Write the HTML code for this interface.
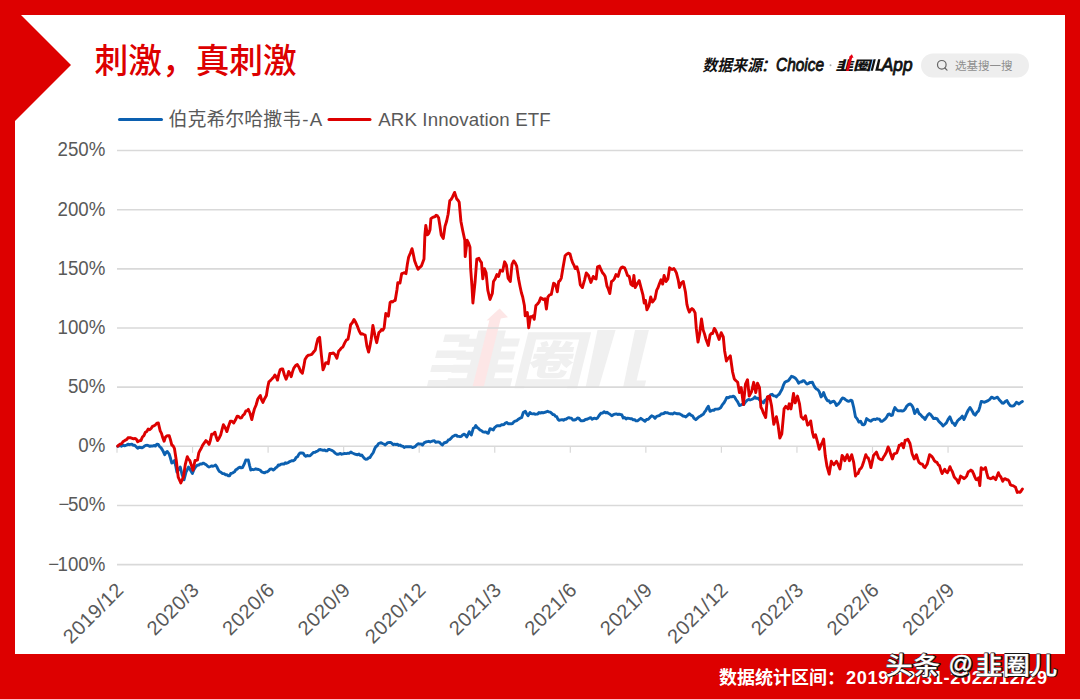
<!DOCTYPE html>
<html lang="zh"><head><meta charset="utf-8"><title>刺激，真刺激</title>
<style>
html,body{margin:0;padding:0;background:#fff}
body{width:1080px;height:699px;overflow:hidden;position:relative;font-family:"Liberation Sans",sans-serif}
svg{position:absolute;left:0;top:0;display:block}
text{font-family:"Liberation Sans",sans-serif}
.ax{font-size:18.70px;fill:#595959}
.cjk{font-family:"Liberation Sans","Noto Sans CJK SC",sans-serif}
</style></head><body>
<svg width="1080" height="699" viewBox="0 0 1080 699">
<path fill="#dd0000" d="M0 0H1080V699H0Z M21 15L71 65L15 121V654H1065V15Z" fill-rule="evenodd"/>
<g fill="#f0f0f0">
<g transform="translate(444 382.5) skewX(-14) scale(0.0700 0.0610)"><path d="M545 -851V-69H456V-851H305V-718H77V-585H305V-505H93V-372H305V-292H69V-159H305V-69H42V70H961V-69H699V-164H936V-297H699V-377H913V-510H699V-590H928V-723H699V-851Z"/></g>
<path d="M445 334.5H470L468.1 342H443.1Z M437 350.5H466L464.1 358H435.1Z M432 365H462L460.2 372H430.2Z M428.5 380H460L458.4 386.5H426.9Z"/>
<g transform="translate(511 382.5) skewX(-14) scale(0.0720 0.0610)"><path d="M445 -693C439 -652 431 -615 419 -580H346L396 -598C392 -623 374 -656 355 -681L269 -650C283 -629 296 -602 302 -580H246V-499H384L368 -473H221V-388H292C265 -366 235 -347 200 -331V-703H798V-55H200V-314C222 -290 250 -252 261 -232C284 -244 305 -256 325 -270V-186C325 -95 358 -70 469 -70C493 -70 592 -70 617 -70C698 -70 728 -94 739 -183C710 -188 668 -202 645 -217C641 -165 634 -156 605 -156C581 -156 502 -156 483 -156C444 -156 436 -160 436 -188V-276H531C530 -265 528 -258 525 -255C520 -249 514 -248 506 -248C496 -248 479 -248 457 -251C468 -232 476 -201 478 -179C507 -177 537 -178 554 -180C575 -181 593 -188 606 -203C622 -220 627 -255 630 -319C656 -286 688 -258 722 -239C738 -266 773 -307 798 -327C765 -341 734 -363 709 -388H775V-473H498L509 -499H755V-580H689L728 -656L620 -679C613 -650 599 -612 585 -580H538C547 -611 555 -645 561 -680ZM436 -354H420L447 -388H584L604 -354ZM66 -825V95H200V63H798V95H939V-825Z"/></g>
<path d="M597.5 330H615.6L598.9 387H585.7Z"/>
<path d="M635 330H648.9L636.6 380.5H646.1L644.5 387H623.2Z"/>
</g>
<path d="M499.6 308.5L508 317.2L500.8 318.6L483.8 386.5L472.6 386.5L489.4 320.2L486.5 320.6Z" fill="#fde6e6"/>
<line x1="117.0" x2="1023.0" y1="150.55" y2="150.55" stroke="#d9d9d9" stroke-width="1.6"/>
<line x1="117.0" x2="1023.0" y1="209.70" y2="209.70" stroke="#d9d9d9" stroke-width="1.6"/>
<line x1="117.0" x2="1023.0" y1="268.85" y2="268.85" stroke="#d9d9d9" stroke-width="1.6"/>
<line x1="117.0" x2="1023.0" y1="328.00" y2="328.00" stroke="#d9d9d9" stroke-width="1.6"/>
<line x1="117.0" x2="1023.0" y1="387.15" y2="387.15" stroke="#d9d9d9" stroke-width="1.6"/>
<line x1="117.0" x2="1023.0" y1="446.30" y2="446.30" stroke="#d9d9d9" stroke-width="1.6"/>
<line x1="117.0" x2="1023.0" y1="505.45" y2="505.45" stroke="#d9d9d9" stroke-width="1.6"/>
<line x1="117.0" x2="1023.0" y1="564.60" y2="564.60" stroke="#d9d9d9" stroke-width="1.6"/>
<line x1="117.00" x2="117.00" y1="446.30" y2="452.80" stroke="#d9d9d9" stroke-width="1.2"/>
<line x1="192.55" x2="192.55" y1="446.30" y2="452.80" stroke="#d9d9d9" stroke-width="1.2"/>
<line x1="268.10" x2="268.10" y1="446.30" y2="452.80" stroke="#d9d9d9" stroke-width="1.2"/>
<line x1="343.65" x2="343.65" y1="446.30" y2="452.80" stroke="#d9d9d9" stroke-width="1.2"/>
<line x1="419.20" x2="419.20" y1="446.30" y2="452.80" stroke="#d9d9d9" stroke-width="1.2"/>
<line x1="494.75" x2="494.75" y1="446.30" y2="452.80" stroke="#d9d9d9" stroke-width="1.2"/>
<line x1="570.30" x2="570.30" y1="446.30" y2="452.80" stroke="#d9d9d9" stroke-width="1.2"/>
<line x1="645.85" x2="645.85" y1="446.30" y2="452.80" stroke="#d9d9d9" stroke-width="1.2"/>
<line x1="721.40" x2="721.40" y1="446.30" y2="452.80" stroke="#d9d9d9" stroke-width="1.2"/>
<line x1="796.95" x2="796.95" y1="446.30" y2="452.80" stroke="#d9d9d9" stroke-width="1.2"/>
<line x1="872.50" x2="872.50" y1="446.30" y2="452.80" stroke="#d9d9d9" stroke-width="1.2"/>
<line x1="948.05" x2="948.05" y1="446.30" y2="452.80" stroke="#d9d9d9" stroke-width="1.2"/>
<text class="ax" style="font-size:20px" transform="translate(105.4 156.45) scale(0.935 1)" text-anchor="end">250%</text>
<text class="ax" style="font-size:20px" transform="translate(105.4 215.60) scale(0.935 1)" text-anchor="end">200%</text>
<text class="ax" style="font-size:20px" transform="translate(105.4 274.75) scale(0.935 1)" text-anchor="end">150%</text>
<text class="ax" style="font-size:20px" transform="translate(105.4 333.90) scale(0.935 1)" text-anchor="end">100%</text>
<text class="ax" style="font-size:20px" transform="translate(105.4 393.05) scale(0.935 1)" text-anchor="end">50%</text>
<text class="ax" style="font-size:20px" transform="translate(105.4 452.20) scale(0.935 1)" text-anchor="end">0%</text>
<text class="ax" style="font-size:20px" transform="translate(105.4 511.35) scale(0.935 1)" text-anchor="end"><tspan>−</tspan><tspan dx="-1.6">50%</tspan></text>
<text class="ax" style="font-size:20px" transform="translate(105.4 570.50) scale(0.935 1)" text-anchor="end"><tspan>−</tspan><tspan dx="-1.6">100%</tspan></text>
<text class="ax" style="font-size:20.0px;letter-spacing:0.55px" transform="translate(125.00 591.00) rotate(-45)" text-anchor="end">2019/12</text>
<text class="ax" style="font-size:20.0px;letter-spacing:0.55px" transform="translate(200.55 591.00) rotate(-45)" text-anchor="end">2020/3</text>
<text class="ax" style="font-size:20.0px;letter-spacing:0.55px" transform="translate(276.10 591.00) rotate(-45)" text-anchor="end">2020/6</text>
<text class="ax" style="font-size:20.0px;letter-spacing:0.55px" transform="translate(351.65 591.00) rotate(-45)" text-anchor="end">2020/9</text>
<text class="ax" style="font-size:20.0px;letter-spacing:0.55px" transform="translate(427.20 591.00) rotate(-45)" text-anchor="end">2020/12</text>
<text class="ax" style="font-size:20.0px;letter-spacing:0.55px" transform="translate(502.75 591.00) rotate(-45)" text-anchor="end">2021/3</text>
<text class="ax" style="font-size:20.0px;letter-spacing:0.55px" transform="translate(578.30 591.00) rotate(-45)" text-anchor="end">2021/6</text>
<text class="ax" style="font-size:20.0px;letter-spacing:0.55px" transform="translate(653.85 591.00) rotate(-45)" text-anchor="end">2021/9</text>
<text class="ax" style="font-size:20.0px;letter-spacing:0.55px" transform="translate(729.40 591.00) rotate(-45)" text-anchor="end">2021/12</text>
<text class="ax" style="font-size:20.0px;letter-spacing:0.55px" transform="translate(804.95 591.00) rotate(-45)" text-anchor="end">2022/3</text>
<text class="ax" style="font-size:20.0px;letter-spacing:0.55px" transform="translate(880.50 591.00) rotate(-45)" text-anchor="end">2022/6</text>
<text class="ax" style="font-size:20.0px;letter-spacing:0.55px" transform="translate(956.05 591.00) rotate(-45)" text-anchor="end">2022/9</text>
<polyline fill="none" stroke="#0c60b0" stroke-width="2.9" stroke-linejoin="round" stroke-linecap="round" points="117.7,446.3 119.0,445.9 120.3,445.5 121.6,446.2 122.9,445.1 124.2,445.7 125.5,445.5 126.8,445.0 128.0,444.2 129.3,444.7 130.6,444.4 131.9,444.1 133.1,445.2 134.4,445.1 135.7,446.3 137.7,448.3 139.1,447.3 140.6,447.5 142.1,447.8 143.5,447.0 144.8,445.8 146.0,445.4 147.3,445.3 148.6,445.7 149.9,446.4 151.2,446.0 152.5,446.1 153.9,445.5 155.4,446.0 156.9,444.1 158.3,444.4 159.6,446.6 160.9,447.6 162.2,449.6 163.4,451.8 164.7,454.7 166.0,452.5 167.3,451.5 169.2,454.1 170.5,458.3 171.8,463.1 173.1,462.3 174.4,460.5 175.7,465.8 176.9,472.1 178.6,469.6 180.2,466.9 182.1,474.7 184.0,479.8 186.0,472.1 187.2,469.8 188.5,467.0 189.8,468.9 191.1,471.3 192.4,473.4 194.0,469.5 195.6,467.0 197.2,465.3 198.8,465.0 200.3,463.9 201.8,464.0 203.3,463.1 204.8,464.0 206.2,464.8 207.7,466.2 209.1,467.0 210.4,466.5 211.7,465.9 213.0,466.3 214.3,465.7 215.6,465.0 216.9,466.8 218.1,469.5 219.4,471.5 221.0,472.3 222.6,473.6 224.2,473.7 225.6,474.8 226.9,474.8 228.3,475.8 229.6,475.7 230.8,473.5 232.1,473.2 233.3,472.5 234.6,471.8 235.8,469.7 237.1,469.1 238.3,468.0 239.7,467.1 241.1,467.9 242.5,467.5 244.2,464.2 245.8,460.0 247.1,460.1 248.3,460.0 249.6,465.6 250.8,470.0 252.1,469.4 253.3,469.7 254.6,469.3 255.8,468.8 257.2,469.3 258.6,469.5 260.0,470.0 261.6,471.8 263.3,472.5 264.7,472.9 266.1,471.9 267.5,471.7 268.8,470.7 270.0,469.2 271.6,468.9 273.3,470.0 274.6,469.1 275.8,467.7 277.1,467.0 278.3,465.0 279.7,465.2 281.1,464.1 282.5,464.0 283.9,464.1 285.3,462.8 286.7,463.3 288.0,462.7 289.3,461.8 290.7,461.2 292.0,460.6 293.3,460.8 294.7,459.9 296.1,457.5 297.5,456.7 298.8,454.4 300.0,453.0 301.6,453.0 303.3,453.3 304.6,455.4 305.8,456.3 307.2,455.5 308.6,455.9 310.0,455.8 311.6,454.2 313.3,452.5 314.8,452.4 316.2,451.6 317.7,451.0 319.2,449.7 320.6,449.5 321.9,450.0 323.3,450.3 324.6,450.0 325.8,450.8 327.1,450.9 328.3,449.5 329.6,449.5 330.8,450.0 332.3,450.6 333.8,451.7 335.2,453.1 336.7,454.2 337.9,454.3 339.2,453.8 340.4,453.4 341.7,454.2 343.1,453.8 344.6,453.5 346.1,453.6 347.5,453.3 349.1,453.4 350.8,452.0 352.2,453.0 353.6,453.5 355.0,454.2 356.3,454.5 357.7,454.8 359.0,454.0 360.4,455.5 361.7,455.0 363.1,456.8 364.4,458.4 365.8,459.2 367.2,459.1 368.6,457.9 370.0,457.5 371.6,454.8 373.3,452.5 374.6,449.0 375.8,446.7 377.2,445.7 378.6,443.5 380.0,443.0 381.2,442.8 382.5,443.5 383.8,444.0 385.0,445.0 386.4,443.9 387.8,442.6 389.2,442.5 390.6,442.4 391.9,443.4 393.3,444.7 394.6,444.1 396.0,444.6 397.3,444.1 398.7,445.5 400.0,445.0 401.4,446.0 402.8,446.1 404.2,447.5 405.6,446.8 406.9,446.7 408.3,446.7 409.7,446.7 411.1,446.6 412.5,447.5 413.9,447.1 415.4,446.4 416.9,444.6 418.3,443.7 419.7,444.1 421.1,443.9 422.5,445.0 424.1,442.9 425.8,442.0 427.3,441.6 428.8,441.3 430.2,442.0 431.7,441.3 433.0,440.9 434.3,440.8 435.7,442.4 437.0,441.9 438.3,442.0 439.7,442.4 441.1,444.1 442.5,445.0 443.9,443.0 445.4,442.5 446.9,442.0 448.3,440.0 449.6,439.6 451.0,438.4 452.3,436.8 453.7,436.0 455.0,435.3 456.2,435.1 457.5,436.4 458.8,436.4 460.0,436.7 461.4,436.3 462.8,434.8 464.2,434.2 465.4,435.2 466.7,437.0 467.9,434.8 469.2,431.7 471.3,435.0 473.3,428.3 474.6,427.7 475.8,425.5 477.1,427.5 478.3,428.3 480.0,430.0 481.7,430.8 483.0,431.8 484.3,432.2 485.7,431.9 487.0,432.8 488.3,433.3 490.0,428.7 491.6,429.1 493.3,430.0 494.6,427.6 495.8,426.7 497.2,425.6 498.6,425.7 500.0,425.8 501.3,424.8 502.7,424.8 504.0,424.6 505.4,423.1 506.7,422.5 508.4,423.8 510.0,423.7 511.3,423.9 512.7,423.3 514.0,421.7 515.4,420.9 516.7,420.8 518.0,419.5 519.2,418.7 520.5,417.9 521.7,417.5 523.3,412.5 525.3,411.3 526.6,413.7 528.0,415.8 530.0,412.5 531.2,413.6 532.5,413.9 533.8,413.7 535.0,414.2 536.3,414.1 537.7,414.0 539.0,412.5 540.4,413.1 541.7,412.5 543.2,412.9 544.6,412.4 546.0,412.0 547.5,411.3 548.9,411.9 550.3,412.1 551.7,413.3 553.0,414.6 554.2,414.7 555.5,416.3 556.7,416.7 558.0,419.3 559.2,420.3 560.7,419.9 562.1,419.6 563.5,420.2 565.0,419.2 566.2,419.3 567.5,418.1 568.8,417.7 570.0,418.0 571.4,418.1 572.8,420.0 574.2,420.0 575.9,419.5 577.5,418.0 578.8,418.1 580.0,419.9 581.2,420.9 582.5,420.8 584.0,420.5 585.4,419.5 586.8,419.3 588.3,418.7 589.6,418.0 590.9,417.7 592.2,419.2 593.6,418.5 594.9,418.2 596.2,418.8 597.5,418.0 599.1,415.5 600.8,413.3 602.5,413.1 604.2,411.7 605.6,412.8 606.9,412.3 608.3,413.3 610.0,414.2 611.7,415.8 613.4,414.7 615.0,414.2 616.3,413.9 617.7,414.5 619.0,414.1 620.4,414.5 621.7,414.7 623.3,418.0 624.7,417.5 626.1,418.9 627.5,418.1 628.9,418.4 630.3,418.7 631.7,418.7 633.2,419.9 634.6,419.6 636.0,420.9 637.5,420.8 639.1,419.6 640.8,418.3 642.2,419.4 643.6,420.3 645.0,421.3 646.6,419.5 648.3,419.2 650.0,417.4 651.7,415.8 653.4,416.5 655.0,418.3 656.6,416.3 658.3,415.8 659.6,415.6 661.0,414.0 662.3,413.8 663.7,413.5 665.0,412.5 666.2,412.9 667.5,412.8 668.8,413.4 670.0,413.7 671.5,413.7 672.9,414.0 674.3,412.8 675.8,413.3 677.3,413.8 678.8,413.7 680.2,414.2 681.7,415.0 683.1,416.1 684.4,416.3 685.8,417.0 687.5,415.4 689.2,413.7 690.9,415.2 692.5,415.8 694.1,418.4 695.8,419.7 697.5,418.1 699.2,416.7 700.6,416.0 701.9,415.0 703.3,414.2 704.5,412.2 705.8,410.6 707.0,408.2 708.3,406.3 710.0,411.3 711.2,410.8 712.5,410.2 713.8,410.4 715.0,409.2 716.5,409.1 717.9,409.0 719.3,408.6 720.8,407.5 722.5,404.6 724.2,402.5 725.5,400.1 726.7,397.5 728.4,397.8 730.0,396.7 731.7,396.9 733.4,396.1 734.7,397.2 736.0,399.5 737.7,401.9 739.4,405.5 740.8,405.1 742.3,404.2 743.7,404.6 745.5,402.0 747.2,400.3 748.6,399.4 750.1,400.0 751.5,399.5 753.2,398.7 754.9,396.9 756.3,398.4 757.8,398.1 759.2,399.5 760.6,401.0 762.1,402.0 763.5,402.9 764.9,400.3 766.4,399.5 767.8,396.9 769.2,396.8 770.7,394.7 772.1,394.3 773.5,395.9 775.0,395.9 776.4,396.9 777.8,395.2 779.2,394.3 780.6,391.8 782.0,389.2 783.5,384.9 784.9,382.3 786.6,381.3 788.4,380.6 790.0,378.5 791.5,376.3 793.4,376.9 795.2,378.0 797.0,380.1 798.7,383.2 800.1,382.0 801.6,381.8 803.0,380.6 804.4,381.0 805.9,383.0 807.3,384.0 808.6,383.5 809.8,382.4 811.1,382.5 812.4,382.3 813.7,385.1 815.0,387.5 816.4,389.0 817.9,389.7 819.3,391.8 821.0,396.9 822.3,395.5 823.6,392.6 824.9,396.1 826.1,398.6 827.5,400.8 829.0,400.8 830.4,402.9 832.1,401.7 833.9,401.2 835.1,402.6 836.4,405.5 838.1,404.2 839.9,402.1 841.2,399.7 842.6,398.0 844.0,398.3 845.5,399.6 846.9,400.6 848.2,401.3 849.5,401.1 850.7,400.2 852.0,400.6 853.7,407.5 855.5,416.9 857.2,418.9 858.9,422.1 860.6,421.2 862.3,424.6 863.6,424.9 864.9,423.8 866.6,418.6 868.0,419.6 869.5,420.7 870.9,421.2 872.4,419.9 873.9,419.2 875.4,419.6 876.9,418.6 878.2,419.1 879.5,419.2 880.8,421.3 882.1,421.2 883.8,420.1 885.5,418.6 886.8,416.9 888.1,414.3 889.5,413.9 891.0,415.5 892.4,415.2 893.6,410.7 894.9,407.5 896.6,409.8 898.4,410.9 899.7,410.8 901.0,410.6 902.2,411.0 903.5,410.9 905.2,409.0 907.0,405.8 908.7,404.5 910.4,404.0 911.7,405.2 913.0,407.5 914.7,413.5 916.0,411.4 917.3,409.2 919.0,413.5 920.7,414.8 922.4,416.9 923.7,417.6 925.0,419.5 926.4,417.0 927.9,414.8 929.3,413.5 930.7,414.7 932.2,416.6 933.6,418.6 935.3,418.3 937.0,418.6 938.7,421.2 940.4,422.9 941.7,424.1 943.0,426.0 944.7,424.5 946.4,422.9 948.1,419.4 949.9,416.9 951.1,419.7 952.4,422.9 953.7,423.4 955.0,425.5 956.3,423.1 957.6,420.7 958.9,419.5 960.6,418.2 962.3,416.1 964.0,419.5 965.3,416.6 966.6,413.5 968.3,410.0 970.0,407.5 971.3,409.6 972.6,411.8 973.9,414.2 975.2,415.2 976.9,412.4 978.6,410.9 979.9,406.7 981.2,401.5 982.9,401.8 984.6,402.3 986.4,401.4 988.1,400.6 989.8,399.4 991.5,397.2 992.8,397.7 994.1,398.5 995.8,397.9 997.5,397.2 999.2,399.7 1000.9,401.5 1002.2,403.1 1003.5,403.2 1005.2,401.6 1007.0,400.6 1008.7,403.7 1010.4,405.8 1012.1,406.1 1013.8,405.8 1015.1,404.3 1016.4,402.3 1017.7,403.0 1019.0,404.0 1020.7,402.5 1022.4,401.5"/>
<polyline fill="none" stroke="#dd0000" stroke-width="2.9" stroke-linejoin="round" stroke-linecap="round" points="117.7,446.1 119.0,444.9 120.3,444.1 121.6,443.7 122.9,441.8 124.2,440.9 125.5,440.1 126.7,439.5 128.0,437.8 129.3,437.6 130.8,437.8 132.2,438.3 133.7,438.8 135.1,438.4 136.4,439.3 137.7,441.8 139.3,440.8 140.9,440.6 142.4,437.0 143.9,435.6 145.4,432.2 146.8,431.4 148.2,429.0 149.7,429.7 151.1,428.5 152.5,426.4 153.9,425.8 155.4,424.9 156.9,423.1 158.3,422.9 160.2,430.9 161.5,433.4 162.8,437.8 164.1,441.2 165.4,437.3 166.7,435.9 167.9,435.7 169.2,435.8 170.5,439.9 171.8,445.1 173.1,445.8 174.4,448.3 176.3,460.5 178.2,477.2 179.5,480.0 180.8,483.0 182.1,480.0 183.4,477.2 185.3,464.4 187.3,456.7 188.6,459.3 189.8,460.5 191.4,465.4 193.0,470.2 195.0,460.5 196.2,460.5 197.5,459.9 198.8,452.8 200.1,450.2 201.4,448.0 202.7,445.1 204.3,442.8 205.9,440.6 207.5,442.1 209.1,444.4 210.4,440.2 211.7,434.1 213.3,434.1 214.9,432.2 216.2,437.1 217.5,440.6 219.1,438.1 220.7,434.8 222.1,429.4 223.4,424.7 225.2,427.6 226.9,431.6 228.6,426.0 230.3,421.3 232.0,421.3 233.7,423.0 235.4,420.1 237.2,416.1 238.6,416.5 240.1,418.0 241.5,417.9 242.9,415.4 244.4,414.2 245.8,411.0 247.1,410.8 248.3,409.3 250.1,413.5 251.8,419.6 253.1,413.9 254.3,409.3 256.1,405.0 257.8,399.0 259.1,397.2 260.3,395.5 261.6,399.9 262.9,402.4 264.6,398.7 266.4,395.5 267.6,387.8 268.9,381.8 270.6,380.4 272.4,378.4 273.6,377.2 274.9,374.9 276.2,377.0 277.5,380.1 278.8,374.1 280.1,369.8 281.4,369.0 282.7,368.9 284.4,375.0 286.1,379.2 287.4,375.9 288.7,371.5 289.9,373.3 291.2,376.7 292.5,371.9 293.8,368.1 295.6,365.6 297.3,364.6 299.0,367.2 300.7,371.5 302.4,373.2 303.7,366.9 305.0,359.5 306.7,356.7 308.4,355.2 310.1,354.9 311.8,354.3 313.6,352.0 315.3,350.0 316.6,343.8 317.9,338.9 319.6,337.2 321.3,354.3 323.0,369.8 324.3,366.8 325.6,362.9 326.9,362.6 328.2,363.8 329.9,353.5 331.6,353.5 333.4,353.0 335.1,354.8 336.9,358.2 338.6,351.3 340.0,349.7 341.5,347.9 342.9,347.0 344.6,343.1 346.3,340.1 348.0,339.3 349.3,332.9 350.6,324.7 352.3,322.7 354.0,319.5 355.8,322.6 357.5,326.4 359.2,331.0 360.9,334.1 362.3,333.8 363.8,334.5 365.2,335.0 366.9,346.1 368.6,352.1 369.9,346.4 371.2,339.3 372.9,325.5 375.0,335.8 376.7,342.7 378.9,332.4 380.2,331.6 381.5,329.5 382.8,330.2 384.1,328.1 385.8,313.5 387.1,314.2 388.4,316.1 390.1,302.4 391.4,301.5 392.6,302.0 393.9,300.7 395.2,300.6 397.0,289.5 397.8,282.6 400.0,283.0 401.7,273.6 403.1,273.2 404.6,272.7 406.0,273.6 407.3,264.6 408.6,257.3 410.3,253.2 412.0,248.7 413.3,254.2 414.6,260.7 416.3,265.2 418.0,269.3 419.8,267.3 421.5,265.8 422.8,262.3 424.0,259.0 424.9,234.9 425.8,225.5 427.5,234.9 428.8,233.3 430.0,229.8 430.9,218.6 432.2,217.7 433.5,217.0 434.8,216.8 436.1,215.2 437.4,215.9 438.6,217.8 439.9,225.7 441.2,234.9 443.3,238.4 445.0,226.4 446.6,221.2 448.1,214.3 449.8,200.6 451.1,199.5 452.4,197.2 454.6,192.4 456.7,198.9 457.9,200.1 459.2,202.3 460.9,221.2 462.6,230.0 464.8,240.3 465.2,256.6 467.2,240.3 468.6,243.1 470.0,247.2 470.6,267.8 472.0,286.7 472.9,303.0 475.1,281.5 476.8,259.2 478.9,258.3 480.2,260.9 481.5,262.6 482.8,278.9 484.4,268.6 486.1,272.9 487.8,290.1 490.0,299.5 492.3,293.5 493.5,281.5 495.2,278.9 496.9,274.6 498.6,276.4 500.3,270.3 502.6,271.2 504.6,261.8 506.4,265.2 508.1,278.1 510.3,281.5 512.0,264.3 513.7,260.9 515.2,262.9 516.7,266.1 518.4,278.1 520.1,286.7 521.4,292.8 522.7,297.0 524.4,305.5 525.2,315.8 527.3,312.4 528.7,327.9 530.4,316.7 531.7,317.0 533.0,315.8 534.2,319.3 535.9,305.5 537.5,304.0 539.0,302.1 540.7,297.8 542.0,298.5 543.3,299.5 545.0,298.7 546.4,309.0 547.9,297.0 549.6,294.9 551.3,294.4 553.6,283.2 554.9,284.0 556.1,286.7 557.3,291.8 558.7,281.5 560.0,280.7 561.3,278.1 563.0,267.8 565.1,255.8 566.9,254.0 568.7,253.2 570.0,254.0 571.3,258.7 572.6,262.6 573.9,265.1 575.2,268.6 576.9,266.9 578.6,272.9 580.3,284.9 582.4,287.5 584.6,279.8 586.3,272.9 588.5,275.5 590.9,282.4 593.2,276.4 594.7,278.3 596.1,278.9 597.5,266.9 599.5,266.1 601.0,269.7 602.6,272.9 603.9,274.2 605.2,276.4 606.9,285.8 608.3,289.0 609.8,293.5 611.5,281.5 612.9,280.6 614.3,278.9 616.0,274.6 618.1,276.4 619.8,270.3 621.1,267.7 622.4,266.9 624.6,267.8 626.0,271.1 627.5,275.5 629.2,276.4 630.9,284.1 632.7,285.8 633.9,275.5 635.2,287.5 637.5,283.2 639.2,280.6 641.2,288.4 643.0,295.2 644.2,303.0 645.5,300.4 646.9,309.8 649.0,305.5 650.7,297.0 652.4,302.1 653.7,300.5 655.0,298.7 656.7,290.1 658.0,287.8 659.3,284.1 661.0,279.8 662.7,284.1 664.1,275.5 666.1,281.5 667.9,278.9 669.6,267.8 670.9,268.9 672.1,269.5 673.9,268.6 675.1,270.3 676.4,272.9 678.2,279.8 679.5,287.5 681.2,283.2 683.3,281.5 685.5,292.3 686.9,304.3 688.1,309.0 689.4,312.1 690.7,309.8 692.0,308.6 693.5,309.8 695.1,312.9 696.3,328.4 698.0,342.1 699.7,333.5 701.5,318.9 703.2,330.1 704.5,333.9 705.8,338.7 707.0,342.0 708.3,345.5 710.0,335.2 711.3,333.5 712.6,333.5 714.3,328.4 715.6,330.3 716.9,333.5 719.1,339.5 721.2,332.7 723.3,337.0 724.6,350.7 726.4,361.0 727.6,359.0 728.9,357.6 730.3,355.8 732.6,372.0 734.3,378.9 736.0,380.7 737.7,382.3 739.4,392.6 741.2,387.5 743.4,404.6 745.5,384.0 747.5,379.7 749.2,396.1 751.5,391.8 753.7,382.3 755.8,392.6 757.5,383.2 759.5,387.5 760.9,407.2 762.2,409.5 763.5,413.2 765.7,417.5 767.4,396.9 769.5,396.1 771.5,405.5 773.8,424.4 775.1,420.3 776.4,416.7 778.1,425.2 779.8,438.1 781.8,433.8 784.1,408.9 785.8,406.4 788.0,408.9 789.2,403.8 790.9,408.9 792.2,402.0 793.5,393.5 795.2,402.9 797.5,396.1 799.5,403.8 801.2,416.7 803.5,419.2 805.5,415.8 807.6,425.2 809.2,424.0 810.7,420.9 812.4,432.1 813.8,437.3 815.5,434.7 817.6,442.4 819.3,449.3 821.0,445.0 822.3,442.3 823.6,439.0 825.3,456.1 827.0,466.4 829.2,474.2 831.3,461.3 832.6,463.4 833.9,464.7 835.1,463.2 836.4,461.3 838.1,464.4 839.9,469.0 842.1,455.5 843.5,457.2 844.8,460.7 847.2,454.7 849.4,460.7 851.7,454.7 853.7,462.4 855.5,476.1 856.8,473.9 858.0,473.6 859.7,469.3 861.0,468.4 862.3,465.8 864.0,460.7 865.8,454.7 867.0,457.3 868.3,458.1 869.6,461.9 870.9,467.6 872.2,461.8 873.5,455.5 875.0,453.8 876.4,452.1 878.6,458.1 880.4,459.4 882.1,459.8 883.4,457.3 884.6,455.5 886.4,452.2 888.1,447.0 889.4,449.6 890.6,453.8 892.4,459.0 894.1,453.8 895.4,453.5 896.7,453.0 898.0,449.6 899.2,445.2 900.5,445.2 901.8,443.5 903.5,447.8 905.2,440.1 906.5,440.1 907.8,439.2 910.0,443.5 912.1,453.8 914.2,459.0 916.4,454.7 917.7,459.0 919.0,462.4 920.7,463.8 922.4,464.1 923.7,466.7 925.0,467.6 927.2,464.1 929.6,454.7 931.8,456.4 933.1,458.3 934.4,460.7 935.7,461.9 937.0,462.4 938.3,464.9 939.6,465.8 940.9,470.4 942.1,473.6 943.4,471.3 944.7,469.3 946.0,471.6 947.3,472.7 948.6,470.4 949.9,466.7 951.1,469.4 952.4,471.8 954.2,477.0 955.5,478.5 956.7,479.6 958.5,483.0 960.6,476.1 962.3,477.2 964.0,478.7 965.3,477.6 966.6,476.1 968.3,471.8 969.6,471.2 970.9,470.1 972.2,471.0 973.5,473.6 974.8,476.9 976.1,479.6 977.4,479.7 978.6,477.9 979.8,485.6 981.2,467.6 982.5,469.2 983.8,469.3 985.5,467.6 986.8,473.2 988.1,477.9 989.4,478.1 990.6,478.7 991.9,478.3 993.2,477.0 994.5,478.5 995.8,479.6 997.1,476.0 998.4,472.7 999.6,475.5 1000.9,477.0 1002.7,481.3 1004.0,479.2 1005.2,478.7 1006.5,479.7 1007.8,479.6 1009.1,481.2 1010.4,484.7 1011.7,485.4 1013.0,485.6 1014.2,486.4 1015.5,487.3 1017.3,492.4 1018.5,491.9 1019.8,492.4 1021.1,491.1 1022.4,489.0"/>
<text class="cjk" x="94.6" y="73" font-size="33.7" font-weight="500" fill="#dd0000">刺激，真刺激</text>
<line x1="119.5" x2="161.5" y1="119.5" y2="119.5" stroke="#0c60b0" stroke-width="3" stroke-linecap="round"/>
<text class="cjk" x="168.5" y="125.6" font-size="18.95" fill="#595959">伯克希尔哈撒韦</text>
<text class="ax" x="302.35" y="125.6" style="letter-spacing:1.2px">-A</text>
<line x1="329" x2="370" y1="119.5" y2="119.5" stroke="#dd0000" stroke-width="3" stroke-linecap="round"/>
<text class="ax" x="378.2" y="125.6" textLength="172.5" lengthAdjust="spacing">ARK Innovation ETF</text>
<text class="cjk" transform="translate(702.5 70.6) skewX(-12) scale(0.931 1)" font-size="16" font-weight="bold" fill="#111">数据来源</text>
<text x="763.2" y="71.0" font-size="18.3" font-style="italic" fill="#111" stroke="#111" stroke-width="0.85" stroke-linejoin="round">:</text>
<text x="776.0" y="71.0" font-size="18.3" font-style="italic" fill="#111" stroke="#111" stroke-width="0.85" stroke-linejoin="round" textLength="48" lengthAdjust="spacingAndGlyphs">Choice</text>
<circle cx="830.5" cy="65.3" r="1.0" fill="#aaa"/>
<text class="cjk" transform="translate(835.6 69.9) skewX(-14) scale(1 0.7)" x="0 17.3" y="0" font-size="18" font-weight="900" fill="#111">韭圈</text>
<path fill="#111" d="M870.6 70.8H872.9L875.8 59.3H873.5Z M878.1 59.3H880.4L878.5 68.7H882L881.5 70.8H875.2Z"/>
<path d="M849.2 56.8L851.9 54.3L853.5 57.8L852.1 57.8L848.8 70.9L846.0 70.9L849.3 57.8Z" fill="#e60012"/>
<text x="881.8" y="71.0" font-size="18.3" font-style="italic" fill="#111" stroke="#111" stroke-width="0.85" stroke-linejoin="round" textLength="30.8" lengthAdjust="spacingAndGlyphs">App</text>
<rect x="921" y="53.5" width="108" height="24" rx="12" fill="#eeeeee"/>
<circle cx="941.8" cy="64.8" r="4.3" fill="none" stroke="#666" stroke-width="1.2"/>
<line x1="944.9" y1="68" x2="947" y2="70.2" stroke="#666" stroke-width="1.2" stroke-linecap="round"/>
<text class="cjk" x="955" y="69.6" font-size="11.5" fill="#8e8e8e">选基搜一搜</text>
<text class="cjk" x="719" y="684" font-size="18" font-weight="bold" fill="#fff">数据统计区间：</text>
<text x="846.0" y="683.7" font-size="18.2" font-weight="bold" fill="#fff" textLength="201" lengthAdjust="spacing">2019/12/31-2022/12/29</text>
<g transform="translate(885.60 673.80) scale(1 0.89)">
<text class="cjk" x="0.38" y="0.44" font-size="27.2" font-weight="500" fill="#141414" stroke="#141414" stroke-width="2.3" stroke-linejoin="round">头条</text>
<text class="cjk" x="0" y="0" font-size="27.2" font-weight="500" fill="#fff" stroke="#fff" stroke-width="0.3">头条</text>
</g>
<text x="949.1" y="672.70" font-size="24" fill="#141414" stroke="#141414" stroke-width="2.6" stroke-linejoin="round">@</text>
<text x="948.6" y="672.20" font-size="24" fill="#fff" stroke="#fff" stroke-width="0.5">@</text>
<g transform="translate(975.60 673.80) scale(1 0.89)">
<text class="cjk" x="0.38" y="0.44" font-size="27.2" font-weight="500" fill="#141414" stroke="#141414" stroke-width="2.3" stroke-linejoin="round">韭圈儿</text>
<text class="cjk" x="0" y="0" font-size="27.2" font-weight="500" fill="#fff" stroke="#fff" stroke-width="0.3">韭圈儿</text>
</g>
</svg>
</body></html>
